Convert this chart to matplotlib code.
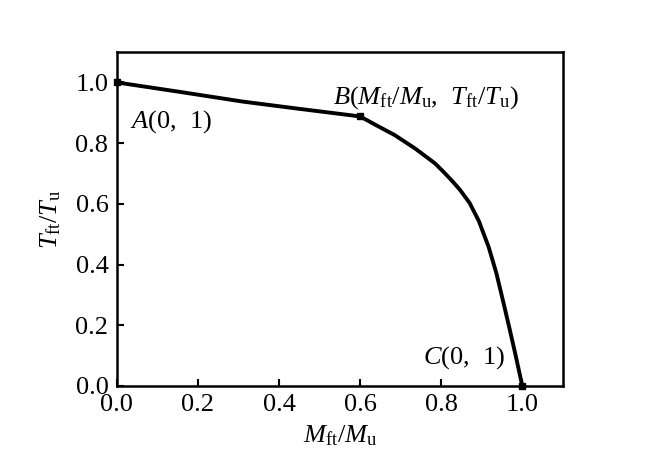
import matplotlib
matplotlib.use("Agg")
import matplotlib.pyplot as plt

plt.rcParams['font.family'] = ['Liberation Serif', 'DejaVu Serif']
plt.rcParams['mathtext.fontset'] = 'custom'
plt.rcParams['mathtext.rm'] = 'Liberation Serif'
plt.rcParams['mathtext.it'] = 'Liberation Serif:italic'

# curve data
m_ratio = [0.0, 0.15, 0.31, 0.45, 0.60, 0.637, 0.686, 0.736, 0.785, 0.806, 0.826,
           0.847, 0.870, 0.893, 0.917, 0.936, 0.952, 0.968, 0.984, 1.0]
t_ratio = [1.0, 0.97, 0.937, 0.913, 0.888, 0.861, 0.826, 0.782, 0.733, 0.705, 0.677,
           0.645, 0.603, 0.543, 0.458, 0.372, 0.283, 0.192, 0.098, 0.0]
key_m = [0.0, 0.60, 1.0]
key_t = [1.0, 0.888, 0.0]
ticks = [0.0, 0.2, 0.4, 0.6, 0.8, 1.0]

fig = plt.figure(figsize=(6.56, 4.65), dpi=100)
ax = fig.add_axes([0.178, 0.170, 0.680, 0.718])
ax.plot(m_ratio, t_ratio, color='black', lw=2.8, solid_joinstyle='round', solid_capstyle='round')
ax.plot(key_m, key_t, 's', color='black', ms=5, clip_on=False)

ax.set_xlim(0, 1.1)
ax.set_ylim(0, 1.1)
ax.set_xticks(ticks)
ax.set_yticks(ticks)
ax.set_xticklabels([f"{v:.1f}" for v in ticks])
ax.set_yticklabels([f"{v:.1f}" for v in ticks])
ax.tick_params(direction='in', length=5, width=1.5, labelsize=19, pad=6)
for s in ax.spines.values():
    s.set_linewidth(1.8)

ax.set_xlabel(r'$\mathit{M}_{\mathrm{ft}}/\mathit{M}_{\mathrm{u}}$', fontsize=19, labelpad=5)
ax.set_ylabel(r'$\mathit{T}_{\mathrm{ft}}/\mathit{T}_{\mathrm{u}}$', fontsize=19, labelpad=9)

ax.text(0.032, 0.87, r'$\mathit{A}$(0,  1)', fontsize=19, va='center', ha='left')
ax.text(0.533, 0.95, r'$\mathit{B}$($\mathit{M}_{\mathrm{ft}}/\mathit{M}_{\mathrm{u}}$,  $\mathit{T}_{\mathrm{ft}}/\mathit{T}_{\mathrm{u}}$)',
        fontsize=19, va='center', ha='left')
ax.text(0.755, 0.095, r'$\mathit{C}$(0,  1)', fontsize=19, va='center', ha='left')

fig.savefig('out.png', dpi=100)
